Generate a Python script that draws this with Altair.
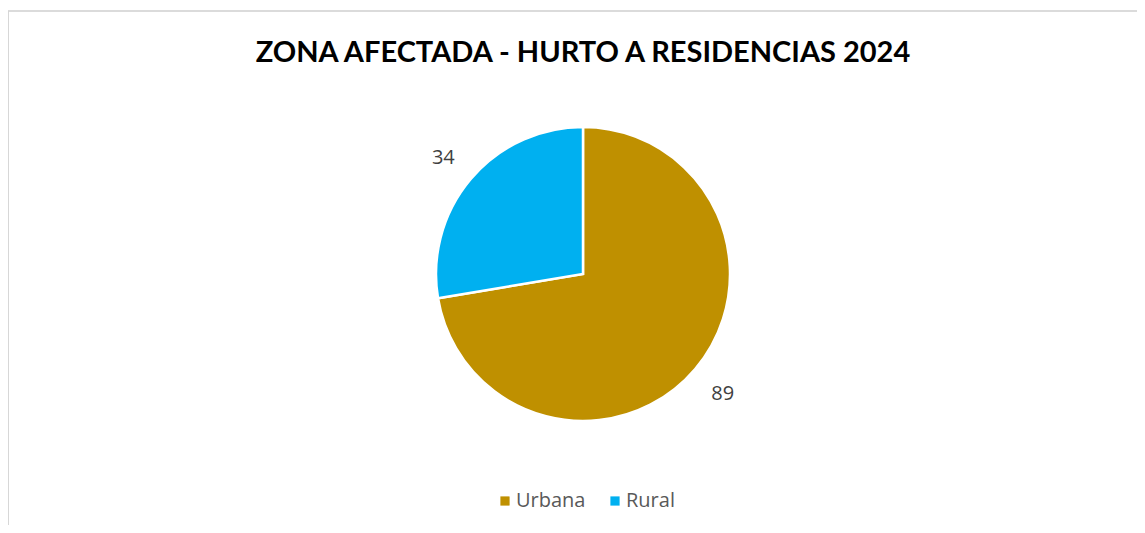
import altair as alt
import pandas as pd

zonas = ["Urbana", "Rural"]
casos = [89, 34]
colores = ["#BF9000", "#00B0F0"]
titulo = "ZONA AFECTADA - HURTO A RESIDENCIAS 2024"

df = pd.DataFrame({"zona": zonas, "casos": casos, "orden": list(range(len(zonas)))})

W, H = 1129, 517
CX, CY = 575, 266

base = alt.Chart(df).encode(
    theta=alt.Theta("casos:Q", stack=True),
    order=alt.Order("orden:Q"),
)

arcs = base.mark_arc(outerRadius=147, stroke="white", strokeWidth=2.5).encode(
    x=alt.value(CX),
    y=alt.value(CY),
    color=alt.Color(
        "zona:N",
        scale=alt.Scale(domain=zonas, range=colores),
        sort=zonas,
        legend=alt.Legend(
            title=None,
            orient="none",
            legendX=487,
            legendY=483,
            direction="horizontal",
            symbolType="square",
            symbolSize=85,
            symbolStrokeWidth=0,
            labelFont="Open Sans",
            labelFontSize=20,
            labelColor="#595959",
            labelOffset=1,
            columnPadding=19,
            padding=0,
        ),
    ),
)

labels = base.mark_text(radius=183, font="Open Sans", fontSize=20, color="#404040").encode(
    x=alt.value(CX),
    y=alt.value(CY + 2),
    text=alt.Text("casos:Q"),
)

title_df = pd.DataFrame({"t": [titulo]})
title_mark = alt.Chart(title_df).mark_text(
    font="Lato", fontSize=29, fontWeight="bold", color="black", align="center", baseline="alphabetic"
).encode(x=alt.value(CX), y=alt.value(54), text="t:N")

top_line = alt.Chart(df).mark_rule(color="#d9d9d9", strokeWidth=1.5).encode(
    x=alt.value(0), x2=alt.value(W), y=alt.value(3)
)
left_line = alt.Chart(df).mark_rule(color="#d4d4d4", strokeWidth=1.5).encode(
    x=alt.value(0), y=alt.value(3), y2=alt.value(H)
)

chart = alt.layer(top_line, left_line, title_mark, arcs, labels).properties(
    width=W,
    height=H,
    padding=0,
    autosize=alt.AutoSizeParams(type="none"),
    background="white",
).configure_view(stroke=None)

chart.save("out.html", embed_options={"renderer": "svg", "actions": False})
